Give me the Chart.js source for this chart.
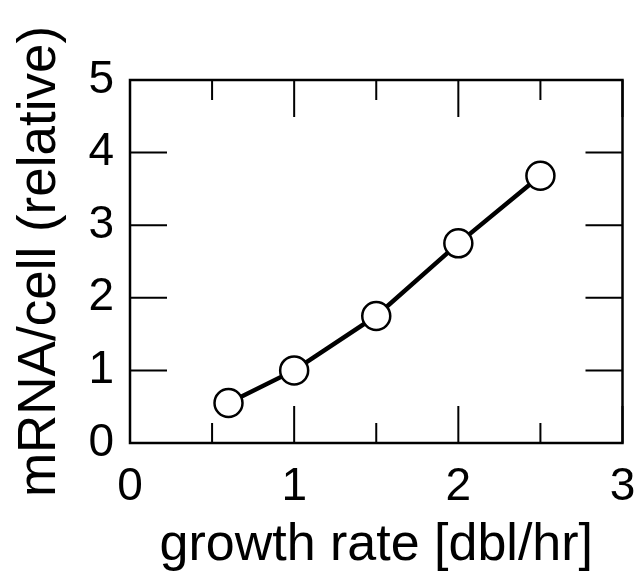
<!DOCTYPE html>
<html>
<head>
<meta charset="utf-8">
<title>mRNA per cell vs growth rate</title>
<script src="https://cdn.jsdelivr.net/npm/chart.js@4/dist/chart.umd.min.js"></script>
<style>
  html, body { margin: 0; padding: 0; background: #fff; }
  canvas { display: block; }
</style>
</head>
<body>
<canvas id="growthChart" width="639" height="573"></canvas>
<script>
'use strict';
const growthRate = [0.6, 1.0, 1.5, 2.0, 2.5];
const mrnaPerCell = [0.55, 1.0, 1.75, 2.75, 3.68];
const xMajorTicks = [0, 1, 2, 3];
const xMinorTicks = [0.5, 1.5, 2.5];
const yMajorTicks = [0, 1, 2, 3, 4, 5];
const xTitle = 'growth rate [dbl/hr]';
const yTitle = 'mRNA/cell (relative)';

const points = [];
for (let i = 0; i < growthRate.length; i++) {
  points.push({ x: growthRate[i], y: mrnaPerCell[i] });
}

// frame around the plot with ticks pointing inwards on all four sides
const frameTicks = {
  id: 'frameTicks',
  afterDraw(chart) {
    const ctx = chart.ctx;
    const area = chart.chartArea;
    const xs = chart.scales.x;
    const ys = chart.scales.y;
    ctx.save();
    ctx.strokeStyle = '#000';
    ctx.lineWidth = 2.5;
    ctx.strokeRect(area.left, area.top, area.right - area.left, area.bottom - area.top);
    ctx.lineWidth = 2;
    ctx.beginPath();
    function xTick(v, len) {
      const px = xs.getPixelForValue(v);
      ctx.moveTo(px, area.bottom);
      ctx.lineTo(px, area.bottom - len);
      ctx.moveTo(px, area.top);
      ctx.lineTo(px, area.top + len);
    }
    xMajorTicks.forEach(v => xTick(v, 37));
    xMinorTicks.forEach(v => xTick(v, 20));
    yMajorTicks.forEach(v => {
      const py = ys.getPixelForValue(v);
      ctx.moveTo(area.left, py);
      ctx.lineTo(area.left + 37, py);
      ctx.moveTo(area.right, py);
      ctx.lineTo(area.right - 37, py);
    });
    ctx.stroke();
    ctx.restore();
  }
};

const tickFont = { family: '"Liberation Sans", Arial, sans-serif', size: 46 };
const titleFont = { family: '"Liberation Sans", Arial, sans-serif', size: 52, lineHeight: 1 };

const ctx = document.getElementById('growthChart').getContext('2d');
const chart = new Chart(ctx, {
  type: 'line',
  data: {
    datasets: [{
      data: points,
      borderColor: '#000',
      borderWidth: 4.5,
      pointRadius: 14,
      pointBorderWidth: 2.5,
      pointBackgroundColor: '#fff',
      pointBorderColor: '#000',
      tension: 0
    }]
  },
  options: {
    responsive: false,
    animation: false,
    layout: { padding: { left: 0, right: 16, top: 80, bottom: 0 } },
    plugins: { legend: { display: false }, tooltip: { enabled: false } },
    scales: {
      x: {
        type: 'linear',
        min: 0,
        max: 3,
        afterBuildTicks: s => { s.ticks = xMajorTicks.map(v => ({ value: v })); },
        ticks: { color: '#000', font: tickFont, padding: 17, maxRotation: 0 },
        grid: { display: false, drawTicks: false },
        border: { display: false },
        title: { display: true, text: xTitle, color: '#000', font: titleFont, padding: { top: 0, bottom: 1 } },
        afterFit: s => { s.height = 130; s.paddingLeft = 0; s.paddingRight = 0; }
      },
      y: {
        min: 0,
        max: 5,
        afterBuildTicks: s => { s.ticks = yMajorTicks.map(v => ({ value: v })); },
        ticks: { color: '#000', font: tickFont, padding: 16 },
        grid: { display: false, drawTicks: false },
        border: { display: false },
        title: { display: true, text: yTitle, color: '#000', font: { family: titleFont.family, size: 53, lineHeight: 1 }, padding: { top: 14, bottom: 0 } },
        afterFit: s => { s.width = 130; s.paddingTop = 0; s.paddingBottom = 0; }
      }
    }
  },
  plugins: [frameTicks]
});
</script>
</body>
</html>
